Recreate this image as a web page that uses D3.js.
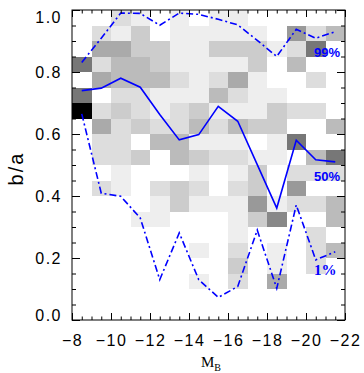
<!DOCTYPE html>
<html lang="en">
<head>
  <meta charset="UTF-8">
  <title>b/a versus M_B</title>
  <script src="https://d3js.org/d3.v7.min.js"></script>
  <style>
    body { margin: 0; background: white; }
    svg text { font-family: "Liberation Sans", Arial, sans-serif; fill: black; }
    .tick text { font-size: 16px; letter-spacing: 1.5px; }
    .pct { font-size: 13px; font-weight: bold; fill: #0000ff; }
  </style>
</head>
<body>
  <svg id="chart" width="364" height="373"></svg>

  <script>
    // magnitude bins (centres) and axis ratio bins (lower edges)
    const magCenters = [-8.5, -9.5, -10.5, -11.5, -12.5, -13.5, -14.5, -15.5, -16.5, -17.5, -18.5, -19.5, -20.5, -21.5];
    const ratioLows = [0.95, 0.90, 0.85, 0.80, 0.75, 0.70, 0.65, 0.60, 0.55, 0.50,
                       0.45, 0.40, 0.35, 0.30, 0.25, 0.20, 0.15, 0.10, 0.05, 0.00];

    // grey level of each cell, one row per ratio bin (top to bottom), 0 = empty, 15 = black
    const density = [
      [0, 0, 2, 1, 0, 1, 0, 1, 1, 0, 0, 0, 0, 0],
      [0, 2, 1, 3, 0, 1, 1, 1, 1, 1, 0, 6, 2, 4],
      [0, 5, 5, 3, 3, 1, 1, 3, 3, 3, 1, 2, 8, 0],
      [8, 2, 4, 4, 3, 1, 1, 1, 1, 3, 0, 4, 0, 0],
      [0, 5, 4, 4, 4, 2, 1, 2, 5, 1, 0, 0, 2, 0],
      [8, 0, 2, 2, 1, 1, 1, 4, 2, 1, 1, 0, 0, 0],
      [15, 2, 3, 2, 1, 2, 3, 1, 1, 1, 3, 2, 2, 0],
      [0, 5, 2, 3, 2, 2, 4, 2, 4, 3, 3, 0, 0, 4],
      [0, 2, 2, 0, 4, 4, 1, 1, 1, 0, 1, 8, 0, 0],
      [0, 2, 2, 3, 0, 4, 3, 2, 2, 1, 1, 0, 4, 8],
      [0, 0, 1, 0, 0, 0, 1, 0, 1, 3, 0, 2, 2, 2],
      [0, 2, 1, 0, 2, 3, 2, 0, 2, 3, 0, 6, 0, 0],
      [0, 0, 0, 0, 1, 3, 1, 1, 1, 6, 1, 2, 2, 4],
      [0, 0, 0, 1, 1, 0, 0, 0, 1, 3, 7, 0, 0, 4],
      [0, 0, 0, 0, 0, 0, 0, 0, 1, 0, 0, 0, 2, 0],
      [0, 0, 0, 0, 0, 0, 1, 0, 2, 0, 1, 0, 2, 4],
      [0, 0, 0, 0, 0, 0, 0, 0, 3, 0, 1, 0, 2, 0],
      [0, 0, 0, 0, 0, 0, 1, 0, 2, 0, 5, 0, 0, 0],
      [0, 0, 0, 0, 0, 0, 0, 0, 0, 0, 0, 0, 0, 0],
      [0, 0, 0, 0, 0, 0, 0, 0, 0, 0, 0, 0, 0, 0]
    ];

    // percentiles of b/a in each magnitude bin
    const p99 = [0.831, 0.909, 0.990, 0.989, 0.951, 0.990, 0.986, 0.970, 0.952, 0.902, 0.850, 0.938, 0.909, 0.930];
    const p50 = [0.740, 0.748, 0.780, 0.751, 0.663, 0.581, 0.598, 0.689, 0.641, 0.501, 0.361, 0.580, 0.517, 0.510];
    const p1  = [0.665, 0.409, 0.399, 0.329, 0.130, 0.281, 0.130, 0.073, 0.108, 0.290, 0.102, 0.371, 0.194, 0.220];

    const xTicks = [-8, -10, -12, -14, -16, -18, -20, -22];
    const yTicks = [0, 0.2, 0.4, 0.6, 0.8, 1.0];

    const svg = d3.select("#chart");
    const margin = { top: 10, right: 19, bottom: 53, left: 72 };
    const W = 364 - margin.left - margin.right;
    const H = 373 - margin.top - margin.bottom;
    const g = svg.append("g").attr("transform", `translate(${margin.left},${margin.top})`);

    const x = d3.scaleLinear().domain([-8, -22]).range([0, W]);
    const y = d3.scaleLinear().domain([0, 1]).range([H, 0]);
    const grey = d3.scaleLinear().domain([0, 15]).range(["#ffffff", "#000000"]);

    // 2D histogram cells
    const cells = [];
    density.forEach((row, i) => row.forEach((v, j) => {
      if (v > 0) cells.push({ m: magCenters[j], r: ratioLows[i], v });
    }));

    g.selectAll(".cell")
      .data(cells)
      .enter().append("rect")
      .attr("class", "cell")
      .attr("x", d => x(d.m + 0.5))
      .attr("width", d => x(d.m - 0.5) - x(d.m + 0.5))
      .attr("y", d => y(d.r + 0.05))
      .attr("height", d => y(d.r) - y(d.r + 0.05))
      .attr("fill", d => grey(d.v))
      .attr("shape-rendering", "crispEdges");

    // percentile lines
    const line = d3.line().x((d, i) => x(magCenters[i])).y(d => y(d));
    const series = [
      { vals: p99, dash: "7,3,2,3" },
      { vals: p50, dash: null },
      { vals: p1, dash: "7,3,2,3" }
    ];
    series.forEach(s => {
      g.append("path")
        .datum(s.vals)
        .attr("d", line)
        .attr("fill", "none")
        .attr("stroke", "#0000ff")
        .attr("stroke-width", 1.6)
        .attr("stroke-dasharray", s.dash);
    });

    g.append("text").attr("class", "pct").attr("x", 268).attr("y", 47.3).attr("text-anchor", "end").text("99%");
    g.append("text").attr("class", "pct").attr("x", 268).attr("y", 171.3).attr("text-anchor", "end").text("50%");
    g.append("text").attr("class", "pct").attr("x", 264.5).attr("y", 265)
      .attr("text-anchor", "end").style("font-family", "'Liberation Serif', serif").style("font-size", "15px")
      .text("1%");

    // axes: ticks point inward on all four sides
    const xMinor = d3.range(-8, -22.01, -0.5);
    const yMinor = d3.range(0, 1.001, 0.05);

    function strip(sel) { sel.select(".domain").remove(); }

    g.append("g").attr("transform", `translate(0,${H})`)
      .call(d3.axisBottom(x).tickValues(xMinor).tickSize(-3.5).tickFormat(""))
      .call(strip);
    g.append("g").attr("transform", `translate(0,${H})`)
      .call(d3.axisBottom(x).tickValues(xTicks).tickSize(-7).tickPadding(14.5).tickFormat(d3.format("d")))
      .call(strip);
    g.append("g")
      .call(d3.axisTop(x).tickValues(xMinor).tickSize(-3.5).tickFormat(""))
      .call(strip);
    g.append("g")
      .call(d3.axisTop(x).tickValues(xTicks).tickSize(-7).tickFormat(""))
      .call(strip);

    g.append("g")
      .call(d3.axisLeft(y).tickValues(yMinor).tickSize(-4).tickFormat(""))
      .call(strip);
    const yAxis = g.append("g")
      .call(d3.axisLeft(y).tickValues(yTicks).tickSize(-8).tickPadding(10).tickFormat(d3.format(".1f")))
      .call(strip);
    yAxis.selectAll(".tick text")
      .attr("dy", d => d === 1 ? "0.75em" : d === 0 ? "0.02em" : "0.32em");

    g.append("g").attr("transform", `translate(${W},0)`)
      .call(d3.axisRight(y).tickValues(yMinor).tickSize(-4).tickFormat(""))
      .call(strip);
    g.append("g").attr("transform", `translate(${W},0)`)
      .call(d3.axisRight(y).tickValues(yTicks).tickSize(-8).tickFormat(""))
      .call(strip);

    g.selectAll(".tick line").attr("stroke", "black");

    g.append("rect")
      .attr("width", W).attr("height", H)
      .attr("fill", "none").attr("stroke", "black").attr("stroke-width", 1);

    // axis titles
    svg.append("text")
      .attr("transform", "translate(23.3,168.5) rotate(-90)")
      .attr("text-anchor", "middle")
      .style("font-size", "20px")
      .style("letter-spacing", "2px")
      .text("b/a");

    const xt = svg.append("text")
      .attr("x", 211).attr("y", 367)
      .attr("text-anchor", "middle")
      .style("font-family", "'Liberation Serif', serif")
      .style("font-size", "15px");
    xt.append("tspan").text("M");
    xt.append("tspan").attr("dy", 4).style("font-size", "10px").text("B");
  </script>
</body>
</html>
